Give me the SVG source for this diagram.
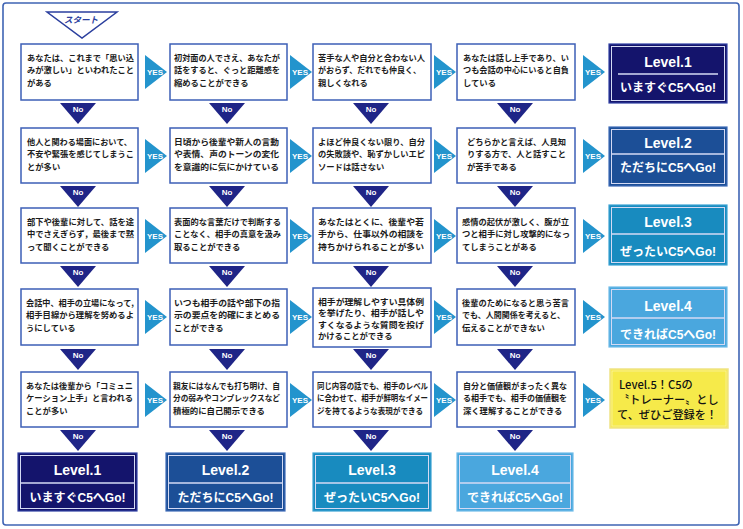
<svg xmlns="http://www.w3.org/2000/svg" width="743" height="529" viewBox="0 0 743 529">
<style>
.q{fill:#fff;stroke:#3d5fb6;stroke-width:1.5}
.qt{font-family:"Noto Sans CJK JP",sans-serif;font-size:8.3px;font-weight:bold;fill:#1c1c1c}
.no{fill:#1f2587}
.yes{fill:#2394cd}
.nt{font-family:"Liberation Sans",Arial,sans-serif;font-size:8px;font-weight:bold;fill:#fff;text-anchor:middle}
.yt{font-family:"Liberation Sans",Arial,sans-serif;font-size:8px;font-weight:bold;fill:#fff}
.lv{font-family:"Liberation Sans",Arial,sans-serif;font-size:14px;font-weight:bold;fill:#fff;text-anchor:middle}
.ls{font-family:"Liberation Sans","Noto Sans CJK JP",sans-serif;font-size:12px;font-weight:bold;fill:#fff;text-anchor:middle}
.inner{fill:none;stroke:#d4daf4;stroke-width:1}
.sep{stroke:#d4daf4;stroke-width:1.3}
.l1{fill:#14146c;stroke:#3040a4;stroke-width:1.2}
.l2{fill:#1c4f97;stroke:#3e6cb8;stroke-width:1.2}
.l3{fill:#188bbf;stroke:#3aa2d2;stroke-width:1.2}
.l4{fill:#4aa7de;stroke:#6fbbe8;stroke-width:1.2}
.l5t{font-family:"Noto Sans CJK JP",sans-serif;font-size:11.2px;font-weight:500;fill:#111}
</style>
<rect x="3" y="3" width="736" height="522" rx="3" fill="#fff" stroke="#3f64b4" stroke-width="1.6"/>

<g id="start">
<polygon points="47,12 117,12 82,38" fill="#fff" stroke="#2b3f9e" stroke-width="1.5"/>
<text x="81" y="23" font-family="Noto Sans CJK JP,sans-serif" font-size="8.5" font-weight="bold" font-style="italic" fill="#2b3f9e" text-anchor="middle">スタート</text>
</g>

<!-- Row 1 -->
<g id="q11"><rect class="q" x="21" y="44" width="117" height="56"/>
<text class="qt" x="27" y="60.5" textLength="107" lengthAdjust="spacingAndGlyphs">あなたは、これまで「思い込</text>
<text class="qt" x="27" y="73" textLength="107" lengthAdjust="spacingAndGlyphs">みが激しい」といわれたこと</text>
<text class="qt" x="27" y="85.5">がある</text></g>
<g id="q12"><rect class="q" x="170" y="44" width="117" height="56"/>
<text class="qt" x="174" y="60.5" textLength="106" lengthAdjust="spacingAndGlyphs">初対面の人でさえ、あなたが</text>
<text class="qt" x="174" y="73" textLength="106" lengthAdjust="spacingAndGlyphs">話をすると、ぐっと距離感を</text>
<text class="qt" x="174" y="85.5">縮めることができる</text></g>
<g id="q13"><rect class="q" x="313" y="44" width="118" height="56"/>
<text class="qt" x="318" y="60.5" textLength="107" lengthAdjust="spacingAndGlyphs">苦手な人や自分と合わない人</text>
<text class="qt" x="318" y="73" textLength="103" lengthAdjust="spacingAndGlyphs">がおらず、だれでも仲良く、</text>
<text class="qt" x="318" y="85.5">親しくなれる</text></g>
<g id="q14"><rect class="q" x="457" y="44" width="118" height="56"/>
<text class="qt" x="463" y="60.5" textLength="106" lengthAdjust="spacingAndGlyphs">あなたは話し上手であり、い</text>
<text class="qt" x="463" y="73" textLength="106" lengthAdjust="spacingAndGlyphs">つも会話の中心にいると自負</text>
<text class="qt" x="463" y="85.5">している</text></g>

<!-- Row 2 -->
<g id="q21"><rect class="q" x="21" y="128" width="117" height="55"/>
<text class="qt" x="27" y="144.5" textLength="105" lengthAdjust="spacingAndGlyphs">他人と関わる場面において、</text>
<text class="qt" x="27" y="157" textLength="107" lengthAdjust="spacingAndGlyphs">不安や緊張を感じてしまうこ</text>
<text class="qt" x="27" y="169.5">とが多い</text></g>
<g id="q22"><rect class="q" x="170" y="128" width="117" height="55"/>
<text class="qt" x="174" y="144.5" textLength="105" lengthAdjust="spacingAndGlyphs">日頃から後輩や新人の言動</text>
<text class="qt" x="174" y="157" textLength="105" lengthAdjust="spacingAndGlyphs">や表情、声のトーンの変化</text>
<text class="qt" x="174" y="169.5" textLength="105" lengthAdjust="spacingAndGlyphs">を意識的に気にかけている</text></g>
<g id="q23"><rect class="q" x="313" y="128" width="118" height="55"/>
<text class="qt" x="318" y="144.5" textLength="107" lengthAdjust="spacingAndGlyphs">よほど仲良くない限り、自分</text>
<text class="qt" x="318" y="157" textLength="107" lengthAdjust="spacingAndGlyphs">の失敗談や、恥ずかしいエピ</text>
<text class="qt" x="318" y="169.5">ソードは話さない</text></g>
<g id="q24"><rect class="q" x="457" y="128" width="118" height="55"/>
<text class="qt" x="467" y="144.5" textLength="99" lengthAdjust="spacingAndGlyphs">どちらかと言えば、人見知</text>
<text class="qt" x="467" y="157" textLength="99" lengthAdjust="spacingAndGlyphs">りする方で、人と話すこと</text>
<text class="qt" x="467" y="169.5">が苦手である</text></g>

<!-- Row 3 -->
<g id="q31"><rect class="q" x="21" y="208" width="117" height="55"/>
<text class="qt" x="27" y="224.5" textLength="107" lengthAdjust="spacingAndGlyphs">部下や後輩に対して、話を途</text>
<text class="qt" x="27" y="237" textLength="107" lengthAdjust="spacingAndGlyphs">中でさえぎらず，最後まで黙</text>
<text class="qt" x="27" y="249.5">って聞くことができる</text></g>
<g id="q32"><rect class="q" x="170" y="208" width="117" height="55"/>
<text class="qt" x="174" y="224.5" textLength="107" lengthAdjust="spacingAndGlyphs">表面的な言葉だけで判断する</text>
<text class="qt" x="174" y="237" textLength="107" lengthAdjust="spacingAndGlyphs">ことなく、相手の真意を汲み</text>
<text class="qt" x="174" y="249.5">取ることができる</text></g>
<g id="q33"><rect class="q" x="313" y="208" width="118" height="55"/>
<text class="qt" x="318" y="224.5" textLength="106" lengthAdjust="spacingAndGlyphs">あなたはとくに、後輩や若</text>
<text class="qt" x="318" y="237" textLength="106" lengthAdjust="spacingAndGlyphs">手から、仕事以外の相談を</text>
<text class="qt" x="318" y="249.5" textLength="106" lengthAdjust="spacingAndGlyphs">持ちかけられることが多い</text></g>
<g id="q34"><rect class="q" x="457" y="208" width="118" height="55"/>
<text class="qt" x="462" y="224.5" textLength="107" lengthAdjust="spacingAndGlyphs">感情の起伏が激しく、腹が立</text>
<text class="qt" x="462" y="237" textLength="108" lengthAdjust="spacingAndGlyphs">つと相手に対し攻撃的になっ</text>
<text class="qt" x="462" y="249.5">てしまうことがある</text></g>

<!-- Row 4 -->
<g id="q41"><rect class="q" x="21" y="289" width="117" height="56"/>
<text class="qt" x="26" y="305.5" textLength="108" lengthAdjust="spacingAndGlyphs">会話中、相手の立場になって,</text>
<text class="qt" x="26" y="318" textLength="108" lengthAdjust="spacingAndGlyphs">相手目線から理解を努めるよ</text>
<text class="qt" x="26" y="330.5">うにしている</text></g>
<g id="q42"><rect class="q" x="170" y="289" width="117" height="56"/>
<text class="qt" x="174" y="305.5" textLength="106" lengthAdjust="spacingAndGlyphs">いつも相手の話や部下の指</text>
<text class="qt" x="174" y="318" textLength="106" lengthAdjust="spacingAndGlyphs">示の要点を的確にまとめる</text>
<text class="qt" x="174" y="330.5">ことができる</text></g>
<g id="q43"><rect class="q" x="313" y="288" width="118" height="59"/>
<text class="qt" x="318" y="304.5" textLength="106" lengthAdjust="spacingAndGlyphs">相手が理解しやすい具体例</text>
<text class="qt" x="318" y="316" textLength="106" lengthAdjust="spacingAndGlyphs">を挙げたり、相手が話しや</text>
<text class="qt" x="318" y="327.5" textLength="106" lengthAdjust="spacingAndGlyphs">すくなるような質問を投げ</text>
<text class="qt" x="318" y="339">かけることができる</text></g>
<g id="q44"><rect class="q" x="457" y="289" width="118" height="56"/>
<text class="qt" x="462" y="305.5" textLength="107" lengthAdjust="spacingAndGlyphs">後輩のためになると思う苦言</text>
<text class="qt" x="462" y="318" textLength="103" lengthAdjust="spacingAndGlyphs">でも、人間関係を考えると、</text>
<text class="qt" x="462" y="330.5">伝えることができない</text></g>

<!-- Row 5 -->
<g id="q51"><rect class="q" x="21" y="372" width="117" height="55"/>
<text class="qt" x="26" y="388.5" textLength="107" lengthAdjust="spacingAndGlyphs">あなたは後輩から「コミュニ</text>
<text class="qt" x="26" y="401" textLength="107" lengthAdjust="spacingAndGlyphs">ケーション上手」と言われる</text>
<text class="qt" x="26" y="413.5">ことが多い</text></g>
<g id="q52"><rect class="q" x="170" y="372" width="117" height="55"/>
<text class="qt" x="173" y="388.5" textLength="107" lengthAdjust="spacingAndGlyphs">親友にはなんでも打ち明け、自</text>
<text class="qt" x="173" y="401" textLength="107" lengthAdjust="spacingAndGlyphs">分の弱みやコンプレックスなど</text>
<text class="qt" x="173" y="413.5" textLength="92" lengthAdjust="spacingAndGlyphs">積極的に自己開示できる</text></g>
<g id="q53"><rect class="q" x="313" y="372" width="118" height="55"/>
<text class="qt" x="317" y="388.5" textLength="111" lengthAdjust="spacingAndGlyphs">同じ内容の話でも、相手のレベル</text>
<text class="qt" x="317" y="401" textLength="111" lengthAdjust="spacingAndGlyphs">に合わせて、相手が鮮明なイメー</text>
<text class="qt" x="317" y="413.5" textLength="106" lengthAdjust="spacingAndGlyphs">ジを持てるような表現ができる</text></g>
<g id="q54"><rect class="q" x="457" y="372" width="118" height="55"/>
<text class="qt" x="463" y="388.5" textLength="104" lengthAdjust="spacingAndGlyphs">自分と価値観がまったく異な</text>
<text class="qt" x="463" y="401" textLength="104" lengthAdjust="spacingAndGlyphs">る相手でも、相手の価値観を</text>
<text class="qt" x="463" y="413.5">深く理解することができる</text></g>

<!-- Right result boxes -->
<g id="r1"><rect class="l1" x="609" y="44" width="118" height="59"/>
<rect class="inner" x="611.5" y="46.5" width="113" height="54"/>
<line class="sep" x1="618" y1="74" x2="718" y2="74"/>
<text class="lv" x="668" y="67">Level.1</text>
<text class="ls" x="668" y="92">いますぐC5へGo!</text></g>
<g id="r2"><rect class="l2" x="609" y="127" width="118" height="59"/>
<rect class="inner" x="611.5" y="129.5" width="113" height="54"/>
<line class="sep" x1="611.5" y1="154" x2="724.5" y2="154"/>
<text class="lv" x="668" y="148">Level.2</text>
<text class="ls" x="668" y="172">ただちにC5へGo!</text></g>
<g id="r3"><rect class="l3" x="609" y="205" width="118" height="60"/>
<rect class="inner" x="611.5" y="207.5" width="113" height="55"/>
<line class="sep" x1="611.5" y1="234" x2="724.5" y2="234"/>
<text class="lv" x="668" y="227">Level.3</text>
<text class="ls" x="668" y="256">ぜったいC5へGo!</text></g>
<g id="r4"><rect class="l4" x="609" y="287" width="118" height="60"/>
<rect class="inner" x="611.5" y="289.5" width="113" height="55"/>
<line class="sep" x1="611.5" y1="318" x2="724.5" y2="318"/>
<text class="lv" x="668" y="311">Level.4</text>
<text class="ls" x="668" y="339">できればC5へGo!</text></g>
<g id="r5"><rect x="610" y="369" width="118" height="59" fill="#f6ea4a" stroke="#efe386" stroke-width="1.5"/>
<rect x="612" y="371" width="114" height="55" fill="none" stroke="#faf3a0" stroke-width="0.8"/>
<text class="l5t" x="619" y="389">Level.5！C5の</text>
<text class="l5t" x="618" y="404">〝トレーナー〟とし</text>
<text class="l5t" x="617" y="419">て、ぜひご登録を！</text></g>

<!-- Bottom result boxes -->
<g id="b1"><rect class="l1" x="18" y="453" width="119" height="58"/>
<rect class="inner" x="20.5" y="455.5" width="114" height="53"/>
<line class="sep" x1="20.5" y1="483" x2="134.5" y2="483"/>
<text class="lv" x="77.5" y="475">Level.1</text>
<text class="ls" x="77.5" y="502">いますぐC5へGo!</text></g>
<g id="b2"><rect class="l2" x="166" y="453" width="119" height="58"/>
<rect class="inner" x="168.5" y="455.5" width="114" height="53"/>
<line class="sep" x1="168.5" y1="483" x2="282.5" y2="483"/>
<text class="lv" x="225.5" y="475">Level.2</text>
<text class="ls" x="225.5" y="502">ただちにC5へGo!</text></g>
<g id="b3"><rect class="l3" x="313" y="453" width="118" height="58"/>
<rect class="inner" x="315.5" y="455.5" width="113" height="53"/>
<line class="sep" x1="315.5" y1="483" x2="428.5" y2="483"/>
<text class="lv" x="372" y="475">Level.3</text>
<text class="ls" x="372" y="502">ぜったいC5へGo!</text></g>
<g id="b4"><rect class="l4" x="457" y="453" width="116" height="58"/>
<rect class="inner" x="459.5" y="455.5" width="111" height="53"/>
<line class="sep" x1="459.5" y1="483" x2="570.5" y2="483"/>
<text class="lv" x="515" y="475">Level.4</text>
<text class="ls" x="515" y="502">できればC5へGo!</text></g>

<!-- Connectors -->
<g id="connectors">
<defs>
<g id="noArrow"><polygon class="no" points="-18,0 18,0 0,21"/><text class="nt" x="0" y="8.5">No</text></g>
<g id="yesArrow"><polygon class="yes" points="0,-17 0,17 22,0"/><text class="yt" x="2" y="3">YES</text></g>
</defs>
<!-- No arrows -->
<use href="#noArrow" x="78" y="103"/><use href="#noArrow" x="227" y="103"/><use href="#noArrow" x="371" y="103"/><use href="#noArrow" x="515" y="103"/>
<use href="#noArrow" x="78" y="186"/><use href="#noArrow" x="227" y="186"/><use href="#noArrow" x="371" y="186"/><use href="#noArrow" x="515" y="186"/>
<use href="#noArrow" x="78" y="266"/><use href="#noArrow" x="227" y="266"/><use href="#noArrow" x="371" y="266"/><use href="#noArrow" x="515" y="266"/>
<use href="#noArrow" x="78" y="349"/><use href="#noArrow" x="227" y="349"/><use href="#noArrow" x="371" y="349"/><use href="#noArrow" x="515" y="349"/>
<use href="#noArrow" x="78" y="430"/><use href="#noArrow" x="227" y="430"/><use href="#noArrow" x="371" y="430"/><use href="#noArrow" x="515" y="430"/>
<!-- YES arrows -->
<use href="#yesArrow" x="145" y="72"/><use href="#yesArrow" x="290" y="72"/><use href="#yesArrow" x="434" y="72"/><use href="#yesArrow" x="583" y="72"/>
<use href="#yesArrow" x="145" y="156"/><use href="#yesArrow" x="290" y="156"/><use href="#yesArrow" x="434" y="156"/><use href="#yesArrow" x="583" y="156"/>
<use href="#yesArrow" x="145" y="236"/><use href="#yesArrow" x="290" y="236"/><use href="#yesArrow" x="434" y="236"/><use href="#yesArrow" x="583" y="236"/>
<use href="#yesArrow" x="145" y="317"/><use href="#yesArrow" x="290" y="317"/><use href="#yesArrow" x="434" y="317"/><use href="#yesArrow" x="583" y="317"/>
<use href="#yesArrow" x="145" y="400"/><use href="#yesArrow" x="290" y="400"/><use href="#yesArrow" x="434" y="400"/><use href="#yesArrow" x="583" y="400"/>
</g>
</svg>
